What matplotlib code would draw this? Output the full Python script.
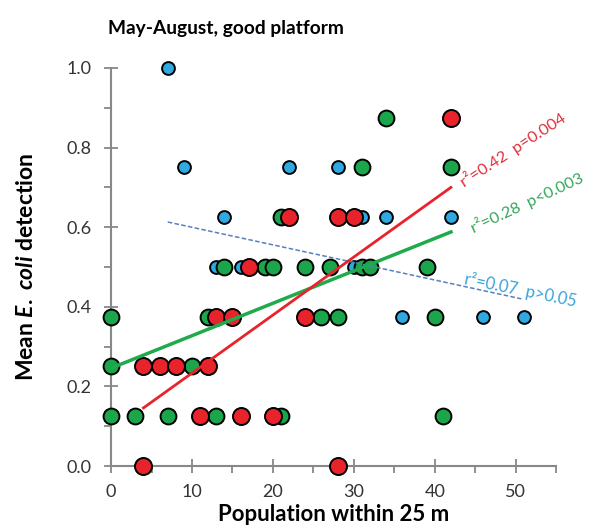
import numpy as np
import matplotlib
matplotlib.use('Agg')
import matplotlib.pyplot as plt
from matplotlib.ticker import MultipleLocator

plt.rcParams['font.family'] = ['Lato', 'DejaVu Sans']
plt.rcParams['mathtext.fontset'] = 'custom'
plt.rcParams['mathtext.rm'] = 'Lato:bold'
plt.rcParams['mathtext.it'] = 'Lato:bold:italic'

# points (population, mean detection)
blue_x = [7, 9, 22, 28, 14, 31, 34, 42, 13, 16, 30, 36, 46, 51]
blue_y = [1.0, 0.75, 0.75, 0.75, 0.625, 0.625, 0.625, 0.625, 0.5, 0.5, 0.5, 0.375, 0.375, 0.375]

green_x = [34, 31, 42, 21, 14, 19, 20, 24, 27, 31, 32, 39, 0, 12, 26, 28, 40, 0, 10, 0, 3, 7, 13, 21, 41]
green_y = [0.875, 0.75, 0.75, 0.625, 0.5, 0.5, 0.5, 0.5, 0.5, 0.5, 0.5, 0.5,
           0.375, 0.375, 0.375, 0.375, 0.375, 0.25, 0.25,
           0.125, 0.125, 0.125, 0.125, 0.125, 0.125]

red_x = [42, 22, 28, 30, 17, 13, 15, 24, 4, 6, 8, 12, 11, 16, 20, 4, 28]
red_y = [0.875, 0.625, 0.625, 0.625, 0.5, 0.375, 0.375, 0.375, 0.25, 0.25, 0.25, 0.25,
         0.125, 0.125, 0.125, 0.0, 0.0]

# trend line end points
red_fit_x = [4, 42]
red_fit_y = [0.146, 0.70]
green_fit_x = [0, 42]
green_fit_y = [0.246, 0.588]
blue_fit_x = [7, 50.7]
blue_fit_y = [0.613, 0.42]

c_blue = '#2fa9e1'
c_green = '#1ca64b'
c_red = '#e8232b'

fig = plt.figure(figsize=(5.91, 5.31), dpi=100)
ax = fig.add_axes([0.188, 0.1224, 0.753, 0.7496])

ax.scatter(blue_x, blue_y, s=85, c=c_blue, edgecolors='black', linewidths=1.4, zorder=3, clip_on=False)
ax.scatter(green_x, green_y, s=130, c=c_green, edgecolors='black', linewidths=1.4, zorder=4, clip_on=False)
ax.scatter(red_x, red_y, s=150, c=c_red, edgecolors='black', linewidths=1.4, zorder=5, clip_on=False)

ax.plot(blue_fit_x, blue_fit_y, '--', color='#5a7fbf', lw=1.1, dashes=(3, 1.5), zorder=6)
ax.plot(green_fit_x, green_fit_y, '-', color='#1faa4c', lw=2.5, zorder=6)
ax.plot(red_fit_x, red_fit_y, '-', color='#e8232b', lw=2.0, zorder=7)

ax.text(43.6, 0.70, 'r²=0.42  p=0.004', color='#e0303a', fontsize=11.8,
        rotation=33, rotation_mode='anchor', ha='left', va='baseline')
ax.text(44.8, 0.585, 'r²=0.28  p<0.003', color='#36a55a', fontsize=11.8,
        rotation=25, rotation_mode='anchor', ha='left', va='baseline')
ax.text(43.6, 0.458, 'r²=0.07  p>0.05', color='#3aa3da', fontsize=12,
        rotation=-11.5, rotation_mode='anchor', ha='left', va='baseline')

ax.set_xlim(0, 55)
ax.set_ylim(0, 1.0)
ax.xaxis.set_major_locator(MultipleLocator(10))
ax.xaxis.set_minor_locator(MultipleLocator(5))
ax.yaxis.set_major_locator(MultipleLocator(0.2))
ax.yaxis.set_minor_locator(MultipleLocator(0.1))
ax.yaxis.set_major_formatter(matplotlib.ticker.FormatStrFormatter('%.1f'))

for side in ['top', 'right']:
    ax.spines[side].set_visible(False)
for side in ['left', 'bottom']:
    ax.spines[side].set_color('#888888')
    ax.spines[side].set_linewidth(1.5)

ax.tick_params(which='major', direction='inout', length=10, width=1.3, color='#888888',
               labelsize=13, labelcolor='#333333')
ax.tick_params(axis='y', which='major', pad=9)
ax.tick_params(axis='x', which='major', pad=8)
ax.tick_params(which='minor', direction='out', length=5, width=1.3, color='#888888')

ax.set_xlabel('Population within 25 m', fontsize=16, fontweight='bold', labelpad=3)
ax.set_ylabel(r'Mean $\mathit{E.\ coli}$ detection', fontsize=16.5, fontweight='bold', labelpad=21)
fig.text(0.183, 0.947, 'May-August, good platform', fontsize=13.8, fontweight='bold', va='center')

fig.savefig('out.png', dpi=100)
